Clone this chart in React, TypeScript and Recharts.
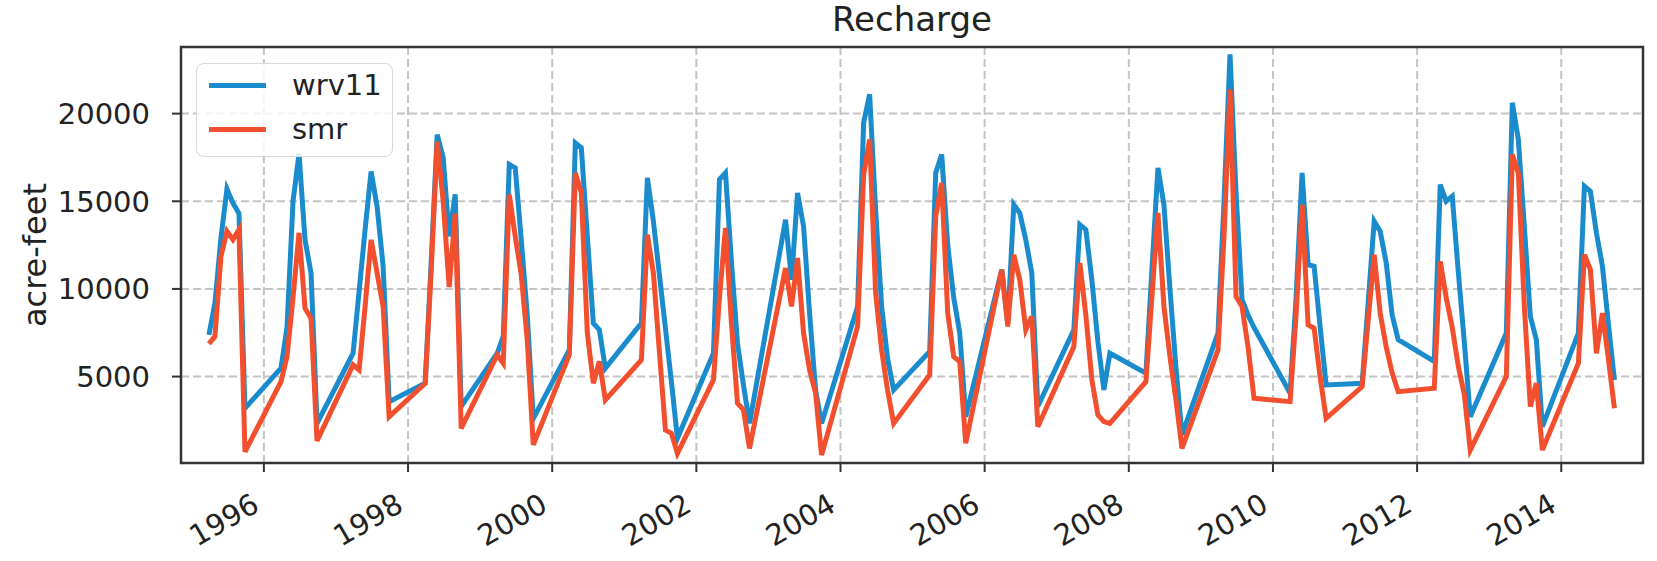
import React from "react";
import {
  LineChart,
  Line,
  XAxis,
  YAxis,
  CartesianGrid,
  Legend,
  ReferenceArea,
} from "recharts";

// monthly stress periods, March..September of each year
const YEARS = [
  1995, 1996, 1997, 1998, 1999, 2000, 2001, 2002, 2003, 2004,
  2005, 2006, 2007, 2008, 2009, 2010, 2011, 2012, 2013, 2014,
];
const MONTHS = [3, 4, 5, 6, 7, 8, 9];

// acre-feet, one row per year (Mar..Sep)
const WRV11 = [
  7380, 9200, 12900, 15700, 14900, 14300, 3190,
  5480, 7800, 15000, 17700, 12800, 10900, 2330,
  6330, 9860, 13380, 16700, 14700, 11300, 3570,
  4620, 11500, 18800, 17500, 13000, 15400, 3300,
  6330, 7300, 17100, 16900, 12800, 8500, 2600,
  6520, 18330, 18050, 13000, 8050, 7670, 5480,
  8050, 16330, 13860, 10800, 7760, 4710, 1480,
  6330, 16240, 16620, 11500, 6900, 4500, 2330,
  13950, 10520, 15480, 13570, 8620, 4240, 2330,
  9000, 19480, 21100, 14500, 9000, 6000, 4240,
  6430, 16620, 17670, 12500, 9500, 7500, 2710,
  11100, 8050, 14810, 14330, 12800, 10900, 3290,
  7670, 13670, 13380, 10500, 7000, 4240, 6330,
  5190, 11100, 16900, 14800, 10000, 5500, 1670,
  7480, 15000, 23380, 15500, 9400, 8500, 7800,
  4050, 9500, 16620, 11380, 11290, 7860, 4520,
  4620, 9200, 13860, 13290, 11500, 8500, 7100,
  5860, 15950, 15000, 15290, 11000, 7000, 2710,
  7480, 20620, 18530, 13570, 8430, 7100, 2140,
  7480, 15860, 15570, 13200, 11300, 8000, 4810,
];
const SMR = [
  6870, 7290, 11860, 13290, 12810, 13380, 710,
  4710, 6140, 9500, 13200, 8900, 8330, 1330,
  5670, 5380, 9000, 12800, 10900, 9000, 2710,
  4620, 11000, 18400, 15000, 10100, 14300, 2040,
  6240, 5760, 15380, 13000, 10800, 7100, 1100,
  6240, 16620, 15480, 7480, 4620, 5860, 3670,
  5950, 13100, 10900, 6400, 1950, 1760, 620,
  4810, 9500, 13480, 8000, 3480, 3100, 900,
  11190, 9000, 11760, 7480, 5380, 4050, 520,
  7860, 16500, 18530, 9760, 6500, 4200, 2330,
  5100, 14140, 16050, 8620, 6140, 5860, 1190,
  11100, 7860, 11950, 10520, 7670, 8430, 2140,
  6710, 11480, 8500, 4810, 2810, 2430, 2330,
  4710, 9570, 14330, 9000, 6140, 3670, 900,
  6520, 13000, 21380, 9570, 9000, 6700, 3760,
  3570, 8500, 14810, 7950, 7760, 5000, 2620,
  4430, 8200, 11950, 8620, 6700, 5200, 4140,
  4330, 11570, 9500, 7800, 5600, 4000, 810,
  5000, 17670, 16620, 9000, 3290, 4620, 810,
  5760, 11950, 11100, 6330, 8620, 6000, 3190,
];

const SERIES = ["wrv11", "smr"];
const X_TICKS = [1996, 1998, 2000, 2002, 2004, 2006, 2008, 2010, 2012, 2014];
const Y_TICKS = [5000, 10000, 15000, 20000];
const X_DOMAIN = [1994.85, 2015.134];
const Y_DOMAIN = [70, 23800];

// decimal year, points fall late in each month
const data = YEARS.flatMap((y, i) =>
  MONTHS.map((m, j) => ({
    t: y + (m - 0.15) / 12,
    wrv11: WRV11[i * 7 + j],
    smr: SMR[i * 7 + j],
  }))
);

const FONT = "DejaVu Sans";
const BLUE = "#1a8bcc";
const RED = "#f24f2e";
const LW = 5;

const XTick = ({ x, y, payload }: any) => (
  <text
    x={x - 3}
    y={y + 36}
    transform={`rotate(-30, ${x - 3}, ${y + 36})`}
    textAnchor="end"
    fontSize={29}
    fontFamily={FONT}
    fill="#222"
  >
    {payload.value}
  </text>
);

const renderLegend = ({ payload }: any) => {
  const items = [...(payload || [])].sort(
    (a: any, b: any) => SERIES.indexOf(a.value) - SERIES.indexOf(b.value)
  );
  return (
    <div
      style={{
        width: 197,
        height: 94,
        boxSizing: "border-box",
        border: "1.5px solid #d8d8d8",
        borderRadius: 8,
        background: "rgba(255,255,255,0.8)",
        position: "relative",
        fontFamily: FONT,
      }}
    >
      {items.map((entry: any, i: number) => (
        <div
          key={entry.value}
          style={{
            position: "absolute",
            left: 12,
            top: 1 + i * 44,
            height: 40,
            display: "flex",
            alignItems: "center",
          }}
        >
          <span
            style={{
              display: "inline-block",
              width: 57,
              height: LW,
              background: entry.color,
            }}
          />
          <span style={{ marginLeft: 26, fontSize: 29, color: "#222", lineHeight: "40px" }}>
            {entry.value}
          </span>
        </div>
      ))}
    </div>
  );
};

export default function App() {
  return (
    <div style={{ position: "absolute", left: 0, top: 0, width: 1657, height: 561, background: "#fff" }}>
      <LineChart
        width={1657}
        height={561}
        data={data}
        margin={{ top: 47, right: 14, bottom: 0, left: 0 }}
      >
        <CartesianGrid stroke="#c4c4c4" strokeWidth={2} strokeDasharray="8 4" />
        <XAxis
          dataKey="t"
          type="number"
          domain={X_DOMAIN}
          ticks={X_TICKS}
          allowDataOverflow
          height={98}
          axisLine={false}
          tickSize={9}
          tickLine={{ stroke: "#333", strokeWidth: 2 }}
          tick={<XTick />}
          interval={0}
        />
        <YAxis
          type="number"
          domain={Y_DOMAIN}
          ticks={Y_TICKS}
          allowDataOverflow
          width={181}
          axisLine={false}
          tickSize={9}
          tickMargin={22}
          tickLine={{ stroke: "#333", strokeWidth: 2 }}
          tick={{ fontSize: 29, fontFamily: FONT, fill: "#222" }}
          interval={0}
        />
        <ReferenceArea
          x1={X_DOMAIN[0]}
          x2={X_DOMAIN[1]}
          y1={Y_DOMAIN[0]}
          y2={Y_DOMAIN[1]}
          fill="none"
          stroke="#333"
          strokeWidth={2.5}
          ifOverflow="visible"
        />
        <Line
          type="linear"
          dataKey="wrv11"
          name="wrv11"
          stroke={BLUE}
          strokeWidth={LW}
          dot={false}
          isAnimationActive={false}
        />
        <Line
          type="linear"
          dataKey="smr"
          name="smr"
          stroke={RED}
          strokeWidth={LW}
          dot={false}
          isAnimationActive={false}
        />
        <Legend
          layout="horizontal"
          verticalAlign="middle"
          align="center"
          content={renderLegend}
          wrapperStyle={{ left: 196, top: 63, width: 197, height: 94 }}
        />
        <text x={912} y={31} textAnchor="middle" fontSize={34} fontFamily={FONT} fill="#222">
          Recharge
        </text>
        <text
          x={46}
          y={255}
          transform="rotate(-90, 46, 255)"
          textAnchor="middle"
          fontSize={32}
          fontFamily={FONT}
          fill="#222"
        >
          acre-feet
        </text>
      </LineChart>
    </div>
  );
}
